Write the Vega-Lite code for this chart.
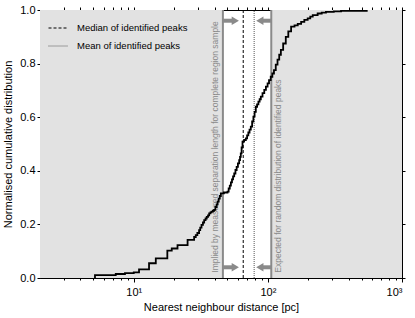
{
  "$schema": "https://vega.github.io/schema/vega-lite/v6.json",
  "width": 362,
  "height": 268,
  "autosize": {"type": "none"},
  "padding": {"left": 40, "top": 10, "right": 13, "bottom": 40},
  "config": {
    "view": {"stroke": "black", "strokeWidth": 1},
    "font": "Liberation Sans",
    "axis": {"grid": false, "domainColor": "black", "tickColor": "black", "labelColor": "black", "titleColor": "black", "labelFont": "Liberation Sans", "titleFont": "Liberation Sans", "titleFontWeight": "normal", "labelFontSize": 11, "titleFontSize": 11}
  },
  "datasets": {
    "bands": [{"lo": 2, "hi": 46.2}, {"lo": 106, "hi": 1000}],
    "bounds": [{"x": 46.2}, {"x": 106}],
    "stats": [{"x": 65.5, "label": "Median of identified peaks"}, {"x": 79, "label": "Mean of identified peaks"}],
    "shafts": [{"x": 46.2, "x2": 54.8, "y": 0.96}, {"x": 106, "x2": 91.8, "y": 0.96}, {"x": 46.2, "x2": 54.8, "y": 0.04}, {"x": 106, "x2": 91.8, "y": 0.04}],
    "heads": [{"x": 57.2, "y": 0.96, "dir": "r"}, {"x": 87.1, "y": 0.96, "dir": "l"}, {"x": 57.2, "y": 0.04, "dir": "r"}, {"x": 87.1, "y": 0.04, "dir": "l"}],
    "notes": [{"x": 40.2, "y": 0.02, "t": "Implied by measured separation length for complete region sample"}, {"x": 119.4, "y": 0.02, "t": "Expected for random distribution of identified peaks"}],
    "cdf": [
      {"d": 5.14, "f": 0.0}, {"d": 5.14, "f": 0.011}, {"d": 7.34, "f": 0.015}, {"d": 8.6, "f": 0.018}, {"d": 10.0, "f": 0.021},
      {"d": 10.95, "f": 0.032}, {"d": 13.0, "f": 0.055}, {"d": 14.6, "f": 0.073}, {"d": 17.8, "f": 0.102}, {"d": 19.2, "f": 0.11},
      {"d": 21.2, "f": 0.123}, {"d": 25.2, "f": 0.142}, {"d": 28.2, "f": 0.153}, {"d": 29.0, "f": 0.16}, {"d": 29.8, "f": 0.168}, {"d": 30.7, "f": 0.179},
      {"d": 31.3, "f": 0.188}, {"d": 32.0, "f": 0.198}, {"d": 32.8, "f": 0.207}, {"d": 33.5, "f": 0.216}, {"d": 34.3, "f": 0.222}, {"d": 35.0, "f": 0.228}, {"d": 35.8, "f": 0.234}, {"d": 36.5, "f": 0.241}, {"d": 37.3, "f": 0.245}, {"d": 38.0, "f": 0.248}, {"d": 38.9, "f": 0.251},
      {"d": 39.7, "f": 0.254}, {"d": 40.6, "f": 0.265}, {"d": 41.5, "f": 0.275}, {"d": 42.2, "f": 0.285}, {"d": 43.0, "f": 0.296}, {"d": 43.8, "f": 0.306}, {"d": 44.6, "f": 0.316}, {"d": 47.0, "f": 0.319}, {"d": 50.0, "f": 0.322},
      {"d": 51.0, "f": 0.334}, {"d": 52.0, "f": 0.345}, {"d": 53.0, "f": 0.357}, {"d": 54.0, "f": 0.368}, {"d": 55.0, "f": 0.379}, {"d": 56.1, "f": 0.39}, {"d": 57.3, "f": 0.403}, {"d": 58.5, "f": 0.415}, {"d": 59.8, "f": 0.428}, {"d": 61.1, "f": 0.44},
      {"d": 62.0, "f": 0.452}, {"d": 62.8, "f": 0.465}, {"d": 63.7, "f": 0.487}, {"d": 64.7, "f": 0.509}, {"d": 66.5, "f": 0.515}, {"d": 68.5, "f": 0.521}, {"d": 70.0, "f": 0.532}, {"d": 71.5, "f": 0.543}, {"d": 73.0, "f": 0.554}, {"d": 74.6, "f": 0.565},
      {"d": 76.3, "f": 0.584}, {"d": 78.0, "f": 0.602}, {"d": 79.6, "f": 0.62}, {"d": 81.3, "f": 0.639}, {"d": 83.1, "f": 0.648}, {"d": 85.0, "f": 0.658}, {"d": 86.8, "f": 0.667}, {"d": 88.6, "f": 0.677}, {"d": 91.2, "f": 0.69}, {"d": 94.0, "f": 0.702},
      {"d": 96.7, "f": 0.714}, {"d": 99.5, "f": 0.726}, {"d": 102, "f": 0.738}, {"d": 105, "f": 0.751}, {"d": 108, "f": 0.763}, {"d": 111, "f": 0.776}, {"d": 114.5, "f": 0.796}, {"d": 118, "f": 0.815}, {"d": 121.5, "f": 0.833}, {"d": 125, "f": 0.851},
      {"d": 130, "f": 0.875}, {"d": 136, "f": 0.9}, {"d": 142, "f": 0.92}, {"d": 149, "f": 0.938}, {"d": 158, "f": 0.943}, {"d": 167, "f": 0.948}, {"d": 177, "f": 0.956}, {"d": 187, "f": 0.963}, {"d": 198, "f": 0.969},
      {"d": 207, "f": 0.975}, {"d": 216, "f": 0.981}, {"d": 235, "f": 0.987}, {"d": 252, "f": 0.99}, {"d": 271, "f": 0.993}, {"d": 310, "f": 0.995}, {"d": 351, "f": 0.997}, {"d": 546, "f": 1.0}
    ]
  },
  "layer": [
    {
      "data": {"name": "bands"},
      "mark": {"type": "rect", "fill": "#e2e2e2"},
      "encoding": {
        "x": {"field": "lo", "type": "quantitative", "scale": {"type": "log", "domain": [2, 1000], "nice": false},
              "axis": {"orient": "bottom", "values": [10, 100, 1000], "labelExpr": "datum.value == 10 ? '10¹' : datum.value == 100 ? '10²' : '10³'", "tickSize": 4, "labelPadding": 4, "title": "Nearest neighbour distance [pc]", "titlePadding": 4}},
        "x2": {"field": "hi"},
        "y": {"datum": 0, "type": "quantitative", "scale": {"domain": [0, 1], "nice": false},
              "axis": {"orient": "left", "values": [0, 0.2, 0.4, 0.6, 0.8, 1.0], "format": ".1f", "tickSize": 3, "labelPadding": 2, "title": "Normalised cumulative distribution", "titlePadding": 6}},
        "y2": {"datum": 1}
      }
    },
    {
      "data": {"name": "bounds"},
      "mark": {"type": "rule", "color": "#8a8a8a", "strokeWidth": 2},
      "encoding": {
        "x": {"field": "x", "type": "quantitative",
              "axis": {"orient": "top", "values": [3,4,5,6,7,8,9,10,20,30,40,50,60,70,80,90,100,200,300,400,500,600,700,800,900,1000], "labels": false, "tickSize": 3, "title": null}},
        "y": {"datum": 0, "type": "quantitative",
              "axis": {"orient": "right", "values": [0, 0.2, 0.4, 0.6, 0.8, 1.0], "labels": false, "tickSize": 3, "title": null}},
        "y2": {"datum": 1}
      }
    },
    {
      "data": {"name": "stats"},
      "mark": {"type": "rule", "strokeWidth": 1},
      "encoding": {
        "x": {"field": "x", "type": "quantitative",
              "axis": {"orient": "bottom", "values": [3,4,5,6,7,8,9,20,30,40,50,60,70,80,90,200,300,400,500,600,700,800,900], "labels": false, "tickSize": 2, "title": null, "domain": false}},
        "y": {"datum": 0, "type": "quantitative", "axis": null},
        "y2": {"datum": 1},
        "color": {"field": "label", "type": "nominal", "scale": {"domain": ["Median of identified peaks", "Mean of identified peaks"], "range": ["#000000", "#555555"]},
                  "legend": {"title": null, "orient": "top-left", "offset": 8, "padding": 0, "symbolType": "stroke", "symbolSize": 360, "symbolStrokeWidth": 1, "labelFontSize": 9.5, "labelOffset": 9, "rowPadding": 3, "labelColor": "black"}},
        "strokeDash": {"field": "label", "type": "nominal", "scale": {"domain": ["Median of identified peaks", "Mean of identified peaks"], "range": [[3, 2], [1, 1]]},
                  "legend": {"title": null, "orient": "top-left", "offset": 8, "padding": 0, "symbolType": "stroke", "symbolSize": 360, "symbolStrokeWidth": 1, "labelFontSize": 9.5, "labelOffset": 9, "rowPadding": 3, "labelColor": "black"}}
      }
    },
    {
      "data": {"name": "shafts"},
      "mark": {"type": "rule", "color": "#8a8a8a", "strokeWidth": 4},
      "encoding": {
        "x": {"field": "x", "type": "quantitative", "axis": null},
        "x2": {"field": "x2"},
        "y": {"field": "y", "type": "quantitative", "axis": null}
      }
    },
    {
      "data": {"name": "heads"},
      "mark": {"type": "point", "filled": true, "color": "#8a8a8a", "size": 70, "opacity": 1},
      "encoding": {
        "x": {"field": "x", "type": "quantitative", "axis": null},
        "y": {"field": "y", "type": "quantitative", "axis": null},
        "shape": {"field": "dir", "type": "nominal", "scale": {"domain": ["r", "l"], "range": ["triangle-right", "triangle-left"]}, "legend": null}
      }
    },
    {
      "data": {"name": "notes"},
      "mark": {"type": "text", "angle": 270, "align": "left", "baseline": "middle", "fontSize": 8.5, "color": "#8a8a8a", "font": "Liberation Sans"},
      "encoding": {
        "x": {"field": "x", "type": "quantitative", "axis": null},
        "y": {"field": "y", "type": "quantitative", "axis": null},
        "text": {"field": "t"}
      }
    },
    {
      "data": {"name": "cdf"},
      "mark": {"type": "line", "interpolate": "step-after", "color": "black", "strokeWidth": 1.8},
      "encoding": {
        "x": {"field": "d", "type": "quantitative", "axis": null},
        "y": {"field": "f", "type": "quantitative", "axis": null}
      }
    }
  ],
  "resolve": {"axis": {"x": "independent", "y": "independent"}}
}
